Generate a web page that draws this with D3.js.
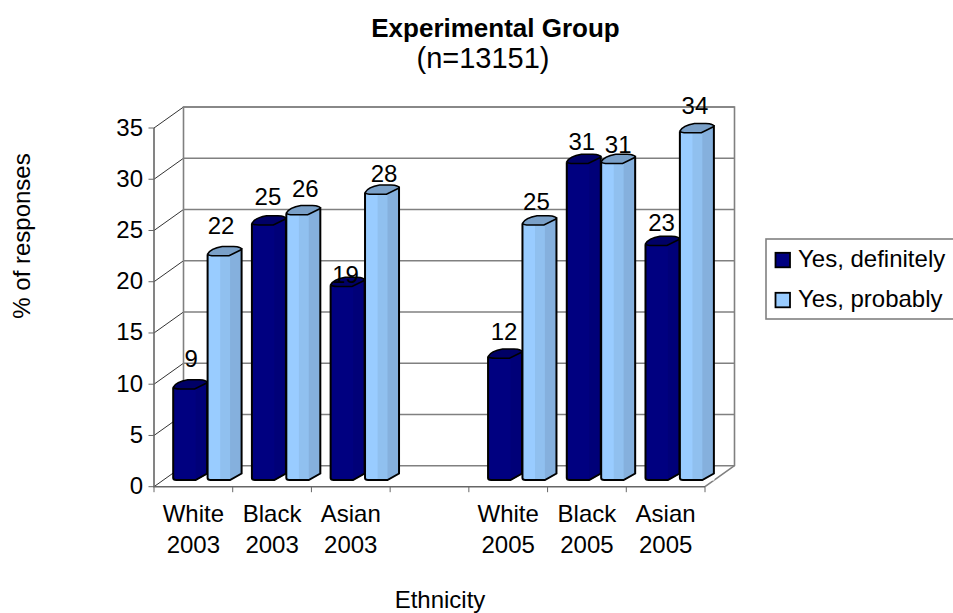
<!DOCTYPE html>
<html><head><meta charset="utf-8">
<script src="https://cdnjs.cloudflare.com/ajax/libs/d3/7.8.5/d3.min.js"></script>
<style>html,body{margin:0;padding:0;background:#fff;overflow:hidden}svg{display:block}text{font-family:"Liberation Sans",Arial,sans-serif;fill:#000}</style>
</head><body><svg id="c" width="953" height="613"></svg>
<script>
const categories=["White|2003","Black|2003","Asian|2003","","White|2005","Black|2005","Asian|2005"];
const definitely=[9,25,19,null,12,31,23];
const probably=[22,26,28,null,25,31,34];
const seriesNames=["Yes, definitely","Yes, probably"];
const yTicks=[0,5,10,15,20,25,30,35];

const svg=d3.select("#c");
const x=d3.scaleBand().domain(categories.map((c,i)=>i)).range([154,705]);
const y=d3.scaleLinear().domain([0,35]).range([486.7,128]);
const depth={x:29.5,y:-21};
const grid="#808080";

// walls and grid
const g=svg.append("g").attr("fill","none");
g.selectAll("path.grid").data(yTicks).join("path").attr("stroke",grid).attr("stroke-width",1.6)
 .attr("d",v=>`M${154+depth.x},${y(v)+depth.y}H${705+depth.x}`);
g.selectAll("path.diag").data(yTicks).join("path").attr("stroke","#333").attr("stroke-width",1)
 .attr("d",v=>`M154,${y(v)}L${154+depth.x},${y(v)+depth.y}`);
g.append("path").attr("stroke",grid).attr("stroke-width",1.6)
 .attr("d",`M${154+depth.x},${y(0)+depth.y}V${y(35)+depth.y}H${705+depth.x}V${y(0)+depth.y}L705,${y(0)}`);
g.append("path").attr("stroke","#666").attr("stroke-width",1.6).attr("d",`M154,${y(35)}V${y(0)}H705`);
g.selectAll("path.ty").data(yTicks).join("path").attr("stroke","#666").attr("d",v=>`M148.5,${y(v)}H154`);
g.selectAll("path.tx").data(d3.range(8)).join("path").attr("stroke","#666").attr("d",i=>`M${154+i*x.step()},${y(0)}v5.5`);

// bars
const barBase=480, barW=34, slotW=34.4, barLeft=19.2, skew=6.5;
const barY=v=>barBase-(y(0)-y(v));
const palette=[
 {a:"#000080",b:"#000080",c:"#000078",top:"#000066"},
 {a:"#99CCFF",b:"#90C0EF",c:"#85B0DD",top:"#7AA0C8"}];
function drawBar(s,i,v){
 const p=palette[s], x0=x(i)+barLeft+s*slotW, t=barY(v), b=barBase, x1=x0+barW*.37, x2=x0+barW*.66, xr=x0+barW;
 const G=svg.append("g");
 G.append("path").attr("fill",p.a).attr("d",`M${x0},${t}V${b-2}Q${x0},${b} ${x0+3},${b}H${x2}L${xr},${b-skew}V${t-skew}Z`);
 G.append("path").attr("fill",p.b).attr("d",`M${x1},${t}V${b}H${xr}V${t}Z`).attr("clip-path",null);
 G.append("path").attr("fill",p.c).attr("d",`M${x2},${t}V${b}L${xr},${b-skew}V${t-skew}Z`);
 G.append("path").attr("fill","#fff").attr("d",`M${x2},${b+.5}L${xr+.5},${b-skew+.5}V${b+.5}Z`);
 G.append("path").attr("fill",p.top).attr("stroke","#000").attr("stroke-width",1.6)
  .attr("d",`M${x0},${t-.5}Q${x0+1},${t+1.2} ${x0+7},${t+1.2}H${x2-1}L${xr-1},${t-4.5}Q${xr+1},${t-6} ${xr-2},${t-7}Q${xr-4},${t-8} ${xr-8},${t-8}H${x1+2}Q${x0+3},${t-6} ${x0},${t-.5}Z`);
 G.append("path").attr("fill","none").attr("stroke","#000").attr("stroke-width",2)
  .attr("d",`M${x0},${t}V${b-2}Q${x0},${b} ${x0+3},${b}H${x2}L${xr},${b-skew}V${t-skew}`);
}
[definitely,probably].forEach((vals,s)=>vals.forEach((v,i)=>{ if(v!=null) drawBar(s,i,v); }));

// data labels, nudged away from the bars as in the source chart
const nudgeDx=[[1,-1,-2,0,-1,-2,-1],[-3.5,2,2,0,-3,0,-2]];
const nudgeDy=[[-20.7,-18.5,-2,0,-17,-12,-13],[-21,-16.5,-11,0,-13.5,-9.5,-18]];
const labels=svg.append("g").attr("font-size",24).attr("text-anchor","middle");
[definitely,probably].forEach((vals,s)=>vals.forEach((v,i)=>{
 if(v==null)return;
 labels.append("text").attr("x",x(i)+barLeft+s*slotW+barW/2+nudgeDx[s][i]).attr("y",barY(v)+nudgeDy[s][i]).text(v);
}));

// axis labels
svg.append("g").attr("font-size",24).attr("text-anchor","end").selectAll("text").data(yTicks).join("text")
 .attr("x",143).attr("y",v=>y(v)+7.5).text(v=>v);
const xl=svg.append("g").attr("font-size",24).attr("text-anchor","middle");
categories.forEach((c,i)=>{ if(!c)return; const [a,b]=c.split("|");
 xl.append("text").attr("x",x(i)+x.bandwidth()/2).attr("y",521.5).text(a);
 xl.append("text").attr("x",x(i)+x.bandwidth()/2).attr("y",553).text(b);
});
// titles
svg.append("text").attr("x",495.5).attr("y",37).attr("text-anchor","middle").attr("font-size",26).attr("font-weight","bold").text("Experimental Group");
svg.append("text").attr("x",483).attr("y",68).attr("text-anchor","middle").attr("font-size",29).text("(n=13151)");
svg.append("text").attr("x",440).attr("y",607.5).attr("text-anchor","middle").attr("font-size",24).text("Ethnicity");
svg.append("text").attr("transform","translate(30,236) rotate(-90)").attr("text-anchor","middle").attr("font-size",24).text("% of responses");
// legend
svg.append("rect").attr("x",766).attr("y",239).attr("width",200).attr("height",80).attr("fill","#fff").attr("stroke",grid).attr("stroke-width",1.6);
seriesNames.forEach((n,i)=>{
 const yy=259.8+i*40;
 svg.append("rect").attr("x",775.5).attr("y",yy-7).attr("width",14.5).attr("height",14.5).attr("fill",palette[i].a).attr("stroke","#000").attr("stroke-width",1.8);
 svg.append("text").attr("x",798).attr("y",yy+7).attr("font-size",24).text(n);
});
</script></body></html>
